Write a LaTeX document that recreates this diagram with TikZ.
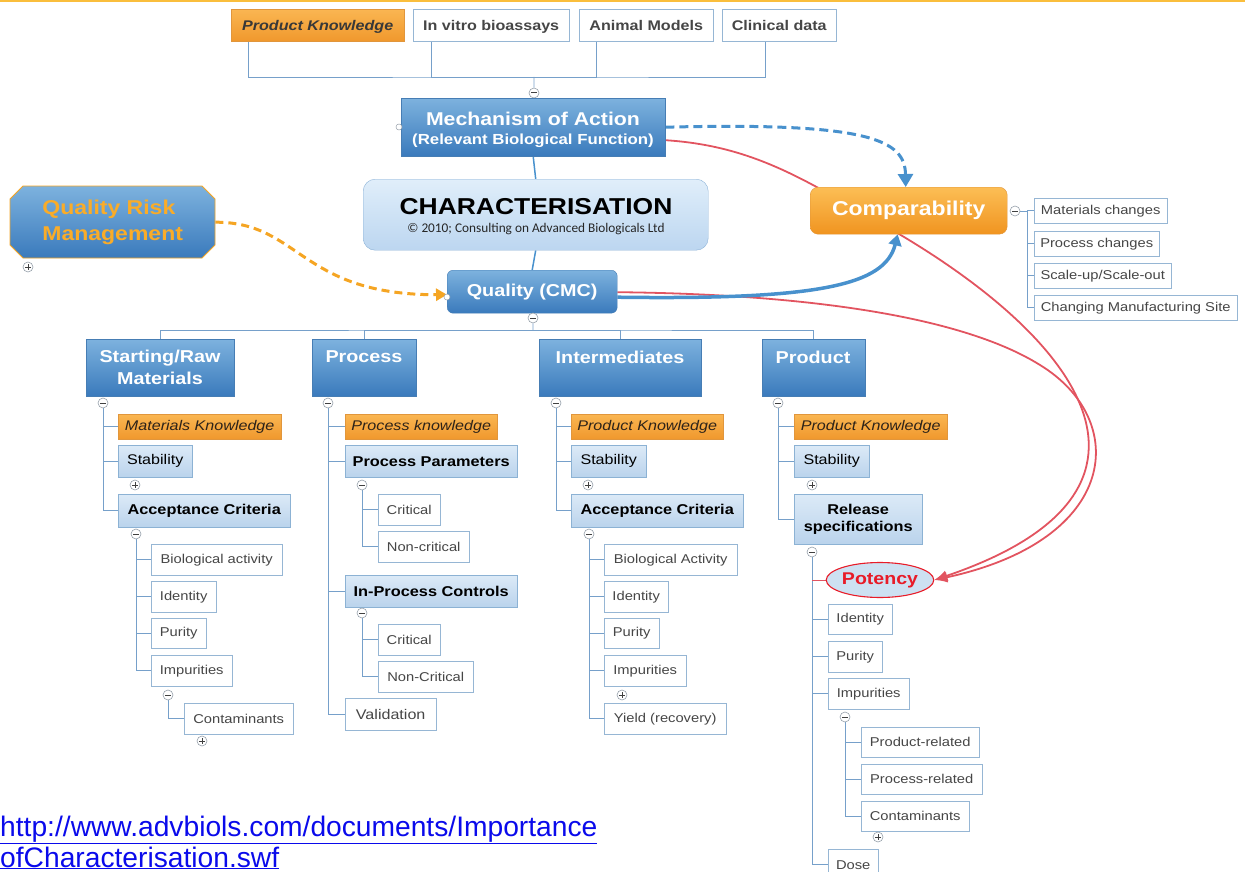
\documentclass[tikz,border=0pt]{standalone}
\usepackage{fontspec}
\setmainfont{Liberation Sans}
\newfontfamily\dsf[FakeStretch=1.15]{Liberation Sans}
\newfontfamily\carl{Carlito}
\usetikzlibrary{shapes.geometric,shapes.misc,arrows.meta,backgrounds}
\newcommand\fs[2]{\fontsize{#1}{#2}\selectfont}
\newcommand\boxat[7]{\node[#1,anchor=north west,inner sep=0pt,minimum width={(#4)-(#2)},minimum height={(#5)-(#3)}] (#6) at (#2,#3) {#7};}
\definecolor{btop}{RGB}{125,178,222}
\definecolor{bbot}{RGB}{58,122,188}
\definecolor{bbd}{RGB}{70,125,180}
\definecolor{ltop}{RGB}{220,234,247}
\definecolor{lbot}{RGB}{186,211,236}
\definecolor{lbd}{RGB}{140,178,212}
\definecolor{wbd}{RGB}{150,182,212}
\definecolor{wtxt}{RGB}{70,70,70}
\definecolor{otop}{RGB}{250,182,82}
\definecolor{obot}{RGB}{240,152,45}
\definecolor{obd}{RGB}{225,150,60}
\definecolor{otxt}{RGB}{45,35,25}
\definecolor{ctop}{RGB}{252,190,85}
\definecolor{cbot}{RGB}{240,148,32}
\definecolor{chtop}{RGB}{224,238,250}
\definecolor{chbot}{RGB}{188,214,240}
\definecolor{chd}{RGB}{140,178,215}
\definecolor{treec}{RGB}{118,160,202}
\definecolor{redc}{RGB}{226,84,96}
\definecolor{blc}{RGB}{72,145,205}
\definecolor{orc}{RGB}{245,165,35}
\definecolor{potfill}{RGB}{205,225,242}
\definecolor{potred}{RGB}{232,28,40}
\definecolor{urlc}{RGB}{10,10,235}
\definecolor{topline}{RGB}{250,190,60}
\definecolor{cbd}{RGB}{150,160,170}
\definecolor{qrmtxt}{RGB}{250,172,40}
\begin{document}
\begin{tikzpicture}[x=1pt,y=-1pt,
  bluebox/.style={draw=bbd,top color=btop,bottom color=bbot,text=white,align=center,font=\dsf\bfseries},
  lbox/.style={draw=lbd,top color=ltop,bottom color=lbot,text=black,align=center,font=\dsf\fs{14}{17}},
  lboxb/.style={lbox,font=\dsf\bfseries\fs{14.2}{17.5}},
  wbox/.style={draw=wbd,fill=white,text=wtxt,align=center,font=\dsf\fs{12.8}{15}},
  obox/.style={draw=obd,top color=otop,bottom color=obot,text=otxt,align=center,font=\dsf\itshape\fs{14}{17}},
  topw/.style={draw=wbd,fill=white,text=wtxt,text height=10pt,text depth=0pt,font=\dsf\bfseries\fs{14}{17}},
  topo/.style={draw=obd,top color=otop,bottom color=obot,text=wtxt!80!black,text height=10pt,text depth=0pt,font=\dsf\bfseries\itshape\fs{14}{17}},
  cattext/.style={text=white,align=center,inner sep=0pt,font=\dsf\bfseries\fs{17.2}{22}},
  cbase/.style={circle,draw=cbd,fill=white,minimum size=10pt,inner sep=0pt,line width=0.6pt},
  cminus/.style={cbase,path picture={\draw[line width=1pt,black!75] ([xshift=-2.8pt]path picture bounding box.center) -- ([xshift=2.8pt]path picture bounding box.center);}},
  cplus/.style={cbase,path picture={\draw[line width=0.9pt,black!75] ([xshift=-2.8pt]path picture bounding box.center) -- ([xshift=2.8pt]path picture bounding box.center) ([yshift=-2.8pt]path picture bounding box.center) -- ([yshift=2.8pt]path picture bounding box.center);}},
  smallc/.style={circle,draw=cbd,fill=white,minimum size=6pt,inner sep=0pt,line width=0.5pt},
  tree/.style={draw=treec,line width=0.9pt},
  redline/.style={draw=redc,line width=1.8pt,-{Latex[length=13pt,width=11pt]}},
]
\useasboundingbox (0,0) rectangle (1245,872);
\draw[topline,line width=1.6pt] (0,0.8) -- (1245,0.8);

% ---------- top row ----------
\boxat{topo}{231}{9}{404}{41}{pk0}{Product Knowledge}
\boxat{topw}{413}{9}{569}{41}{ivb}{In vitro bioassays}
\boxat{topw}{579}{9}{713}{41}{anm}{Animal Models}
\boxat{topw}{722}{9}{836}{41}{cld}{Clinical data}
\coordinate (tbus) at (534,77);
\node[cminus] (cm0) at (534,93) {};

% ---------- central nodes ----------
\boxat{bluebox}{401}{98}{665}{156}{moa}{}
\node[text=white,inner sep=0pt,font=\dsf\bfseries\fs{18.5}{22}] (moat1) at (533,119) {Mechanism of Action};
\node[text=white,inner sep=0pt,font=\dsf\bfseries\fs{14.6}{18}] (moat2) at (533,141) {(Relevant Biological Function)};
\node[smallc] (moal) at (399,127) {};
\boxat{draw=chd,top color=chtop,bottom color=chbot,rounded corners=12pt}{363}{179}{708}{250}{char}{}
\node[inner sep=0pt,font=\dsf\bfseries\fs{23}{27}] (chart) at (536,207) {CHARACTERISATION};
\node[inner sep=0pt,font=\carl\fs{13.3}{15},text=black!85] (chars) at (536,229) {© 2010; Consulting on Advanced Biologicals Ltd};
\boxat{bluebox,rounded corners=6pt,font=\dsf\bfseries\fs{17.2}{20}}{447}{270}{617}{313}{qual}{Quality (CMC)}
\node[smallc] (quall) at (447,297) {};
\node[cminus] (cq) at (533,318) {};

\shade[draw=orc,top color=btop,bottom color=bbot,line width=0.8pt]
  (23,186) -- (202,186) -- (215,199) -- (215,245) -- (202,258) -- (23,258) -- (10,245) -- (10,199) -- cycle;
\boxat{align=left,text=qrmtxt,font=\dsf\bfseries\fs{20}{26}}{10}{186}{215}{258}{qrm}{Quality Risk\\Management}
\node[cplus] (qrmp) at (28,267) {};

\boxat{draw=obd,top color=ctop,bottom color=cbot,rounded corners=8pt,text=white,font=\dsf\bfseries\fs{20}{24}}{810}{187}{1007}{234}{comp}{Comparability}
\node[cminus] (ccm) at (1015,211) {};
\coordinate (cbus) at (1027,211);
\boxat{wbox}{1034}{198}{1167}{223}{mc}{Materials changes}
\boxat{wbox}{1034}{231}{1159}{256}{pc}{Process changes}
\boxat{wbox}{1034}{263}{1171}{288}{su}{Scale-up/Scale-out}
\boxat{wbox}{1034}{295}{1237}{320}{cms}{Changing Manufacturing Site}

% ---------- category boxes ----------
\coordinate (cbusq) at (533,330);
\boxat{bluebox}{86}{339}{234}{396}{sr}{}
\node[cattext] (srt) at (160,367) {Starting/Raw\\Materials};
\boxat{bluebox}{312}{339}{416}{396}{proc}{}
\node[cattext] (proct) at (364,357) {Process};
\boxat{bluebox}{539}{339}{701}{396}{inter}{}
\node[cattext] (intert) at (620,357) {Intermediates};
\boxat{bluebox}{762}{339}{865}{396}{prod}{}
\node[cattext] (prodt) at (813,357) {Product};

% ---------- column 1 ----------
\node[cminus] (c1) at (103,403) {};
\boxat{obox}{118}{414}{281}{439}{mk1}{Materials Knowledge}
\boxat{lbox}{118}{445}{192}{477}{st1}{Stability}
\node[cplus] (p1) at (135,485) {};
\boxat{lboxb}{118}{494}{290}{527}{ac1}{Acceptance Criteria}
\node[cminus] (c1a) at (136,534) {};
\boxat{wbox}{151}{544}{282}{575}{ba1}{Biological activity}
\boxat{wbox}{151}{581}{216}{612}{id1}{Identity}
\boxat{wbox}{151}{618}{206}{648}{pu1}{Purity}
\boxat{wbox}{151}{655}{232}{686}{im1}{Impurities}
\node[cminus] (c1b) at (168,695) {};
\boxat{wbox}{184}{703}{293}{734}{co1}{Contaminants}
\node[cplus] (p1b) at (202,741) {};

% ---------- column 2 ----------
\node[cminus] (c2) at (328,403) {};
\boxat{obox}{345}{414}{497}{439}{pk2}{Process knowledge}
\boxat{lboxb}{345}{445}{517}{477}{pp2}{Process Parameters}
\node[cminus] (c2a) at (362,485) {};
\boxat{wbox}{378}{494}{440}{525}{cr2}{Critical}
\boxat{wbox}{378}{531}{469}{562}{nc2}{Non-critical}
\boxat{lboxb}{345}{575}{517}{607}{ipc}{In-Process Controls}
\node[cminus] (c2b) at (362,613) {};
\boxat{wbox}{378}{624}{440}{655}{cr3}{Critical}
\boxat{wbox}{378}{661}{473}{692}{nc3}{Non-Critical}
\boxat{wbox,font=\dsf\fs{14}{17}}{345}{698}{436}{730}{val}{Validation}

% ---------- column 3 ----------
\node[cminus] (c3) at (556,403) {};
\boxat{obox}{571}{414}{723}{439}{pk3}{Product Knowledge}
\boxat{lbox}{571}{445}{646}{477}{st3}{Stability}
\node[cplus] (p3) at (588,485) {};
\boxat{lboxb}{571}{494}{743}{527}{ac3}{Acceptance Criteria}
\node[cminus] (c3a) at (589,534) {};
\boxat{wbox}{604}{544}{737}{575}{ba3}{Biological Activity}
\boxat{wbox}{604}{581}{668}{612}{id3}{Identity}
\boxat{wbox}{604}{618}{659}{648}{pu3}{Purity}
\boxat{wbox}{604}{655}{686}{686}{im3}{Impurities}
\node[cplus] (p3b) at (622,695) {};
\boxat{wbox}{604}{703}{726}{734}{yr3}{Yield (recovery)}

% ---------- column 4 ----------
\node[cminus] (c4) at (778,403) {};
\boxat{obox}{794}{414}{947}{439}{pk4}{Product Knowledge}
\boxat{lbox}{794}{445}{869}{477}{st4}{Stability}
\node[cplus] (p4) at (812,485) {};
\boxat{lboxb}{794}{494}{922}{544}{rs4}{Release\\specifications}
\node[cminus] (c4a) at (812,552) {};
\node[ellipse,draw=potred,line width=1.1pt,fill=potfill,minimum width=107pt,minimum height=35pt,inner sep=0pt,text=potred,font=\dsf\bfseries\fs{17}{20}] (pot) at (880,580) {Potency};
\boxat{wbox}{828}{604}{892}{634}{id4}{Identity}
\boxat{wbox}{828}{641}{882}{672}{pu4}{Purity}
\boxat{wbox}{828}{678}{909}{709}{im4}{Impurities}
\node[cminus] (c4b) at (845,717) {};
\boxat{wbox}{861}{727}{979}{757}{prr}{Product-related}
\boxat{wbox}{861}{764}{982}{794}{psr}{Process-related}
\boxat{wbox}{861}{801}{969}{831}{co4}{Contaminants}
\node[cplus] (p4b) at (878,837) {};
\boxat{wbox}{828}{849}{878}{880}{dose}{Dose}

% ---------- URL ----------
\node[anchor=base west,inner sep=0pt,text=urlc,font=\fs{28.2}{32}] (url1) at (0,836) {\underline{http://www.advbiols.com/documents/Importance}};
\node[anchor=base west,inner sep=0pt,text=urlc,font=\fs{28.2}{32}] (url2) at (0,867) {\underline{ofCharacterisation.swf}};

% ---------- connectors ----------
\begin{scope}[on background layer]
\draw[tree] ([xshift=17pt]pk0.south west) |- (tbus) -| ([xshift=43pt]cld.south west);
\draw[tree] ([xshift=18pt]ivb.south west) |- (tbus);
\draw[tree] ([xshift=17pt]anm.south west) |- (tbus);
\draw[tree] (tbus) -- (cm0) -- (moa.north);
\draw[draw=blc,line width=1.5pt] (moa.south) -- (char.north);
\draw[draw=blc,line width=1.5pt] (char.south) -- (qual.north);
\draw[tree] (qual.south) -- (cq) -- (cbusq);
\draw[tree] (sr.north) |- (cbusq) -| (prod.north);
\draw[tree] (proc.north) |- (cbusq);
\draw[tree] (inter.north) |- (cbusq);
\draw[tree] (ccm) -- (cbus) |- (mc.west);
\draw[tree] (cbus) |- (pc.west);
\draw[tree] (cbus) |- (su.west);
\draw[tree] (cbus) |- (cms.west);
% column 1
\draw[tree] (c1) |- (mk1.west) (c1) |- (st1.west) (c1) |- (ac1.west);
\draw[tree] (c1a) |- (ba1.west) (c1a) |- (id1.west) (c1a) |- (pu1.west) (c1a) |- (im1.west);
\draw[tree] (c1b) |- (co1.west);
% column 2
\draw[tree] (c2) |- (pk2.west) (c2) |- (pp2.west) (c2) |- (ipc.west) (c2) |- (val.west);
\draw[tree] (c2a) |- (cr2.west) (c2a) |- (nc2.west);
\draw[tree] (c2b) |- (cr3.west) (c2b) |- (nc3.west);
% column 3
\draw[tree] (c3) |- (pk3.west) (c3) |- (st3.west) (c3) |- (ac3.west);
\draw[tree] (c3a) |- (ba3.west) (c3a) |- (id3.west) (c3a) |- (pu3.west) (c3a) |- (im3.west) (c3a) |- (yr3.west);
% column 4
\draw[tree] (c4) |- (pk4.west) (c4) |- (st4.west) (c4) |- (rs4.west);
\draw[tree] (c4a) |- (id4.west) (c4a) |- (pu4.west) (c4a) |- (im4.west) (c4a) |- (dose.west);
\draw[draw=redc,line width=1pt] (c4a |- pot.west) -- (pot.west);
\draw[tree] (c4b) |- (prr.west) (c4b) |- (psr.west) (c4b) |- (co4.west);
% curved relations
\draw[redline] ([yshift=-13pt]moa.east) .. controls (740,145) and (790,170) .. (860,212) .. controls (1080,330) and (1200,490) .. (pot.east);
\draw[redline] ([yshift=-0.5pt]qual.east) .. controls (800,294) and (960,315) .. (1040,365) .. controls (1130,420) and (1120,540) .. (pot.east);
\draw[draw=blc,line width=3pt,dash pattern=on 9pt off 5pt,-{Triangle[length=13pt,width=15pt]}] (moa.east) .. controls (870,122) and (905,140) .. ([xshift=-3pt]comp.north);
\draw[draw=blc,line width=3.5pt,-{Triangle[length=11pt,width=13pt]}] ([yshift=-5.5pt]qual.east) .. controls (820,300) and (885,285) .. ([xshift=-11pt]comp.south);
\draw[draw=orc,line width=3pt,dash pattern=on 8pt off 5pt,-{Triangle[length=11pt,width=12pt]}] (qrm.east) .. controls (300,222) and (300,295) .. ([yshift=-3pt]qual.west);
\end{scope}
\end{tikzpicture}
\end{document}
